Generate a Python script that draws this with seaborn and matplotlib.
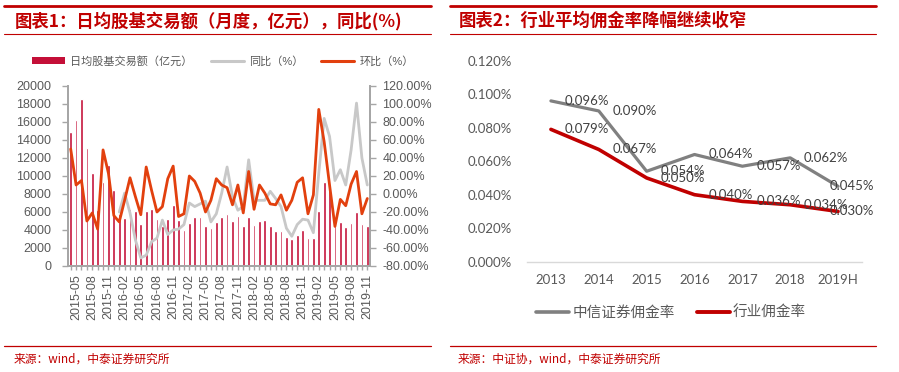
import numpy as np
import pandas as pd
import matplotlib
matplotlib.use("Agg")
import matplotlib.pyplot as plt
from matplotlib.lines import Line2D
from matplotlib.patches import Patch
import matplotlib.ticker as mticker
import seaborn as sns

# ---------------- data ----------------
months = [str(p) for p in pd.period_range("2015-04", "2019-11", freq="M")]
turnover = [14900, 16200, 18600, 13100, 10300, 6200, 9300, 11200, 8400, 5800,
            5300, 6300, 6100, 4700, 6100, 6300, 5200, 4500, 5200, 6800,
            5100, 4000, 4800, 5500, 5500, 4400, 4200, 4900, 5400, 5800,
            5000, 5600, 4400, 5500, 4600, 5000, 5100, 4500, 3900, 3900,
            3200, 3000, 3400, 4000, 3100, 3100, 6100, 9300, 8400, 5000,
            4900, 4300, 4800, 6000, 4700, 4400]
mom = [50, 10, 15, -30, -21, -39, 49, 23, -24, -31,
       -7, 18, -3, -23, 30, 4, -20, -14, 17, 31,
       -25, -22, 20, 14, 1, -20, -7, 17, 10, 7,
       -12, 10, -21, 25, -17, 10, 1, -11, -12, -1,
       -18, -7, 13, 18, -22, -1, 94, 58, 10, -36,
       -6, -13, 11, 25, -22, -5]
yoy_start = "2016-01"
yoy = [-20, 1, -21, -51, -71, -68, -53, -49, -29, -45,
       -40, -39, -34, -10, -14, -11, -8, -31, -22, 1,
       30, -3, -18, -14, 38, -7, -7, -7, 3, -5,
       -14, -38, -47, -34, -28, -29, -43, 23, 84, 64,
       15, 27, 10, 49, 101, 40, 10]

years = ["2013", "2014", "2015", "2016", "2017", "2018", "2019H"]
citic_rate = [0.096, 0.090, 0.054, 0.064, 0.057, 0.062, 0.045]
industry_rate = [0.079, 0.067, 0.050, 0.040, 0.036, 0.034, 0.030]

# ---------------- style ----------------
sns.set_theme(style="white")
plt.rcParams["font.family"] = ["Liberation Sans", "Noto Sans CJK SC"]
plt.rcParams["axes.unicode_minus"] = False

RED = "#C00000"
BAR = "#C40F38"
ORANGE = "#E2400E"
LGRAY = "#C8C8C8"
TXT = "#595959"
SPINE = "#A6A6A6"

fig = plt.figure(figsize=(8.99, 3.72), dpi=100)

# ---------------- left chart ----------------
ax = fig.add_axes([68 / 899, 1 - 266 / 372, 302 / 899, 180 / 372])
df_bar = pd.DataFrame({"month": months, "turnover": turnover})
sns.barplot(data=df_bar, x="month", y="turnover", color=BAR, saturation=1,
            width=0.5, ax=ax)
ax2 = ax.twinx()
idx = np.arange(len(months))
i0 = months.index(yoy_start)
sns.lineplot(x=idx[i0:i0 + len(yoy)], y=yoy, ax=ax2, color=LGRAY, lw=2.0)
sns.lineplot(x=idx, y=mom, ax=ax2, color=ORANGE, lw=2.0)

ax.set_xlim(-0.5, len(months) - 0.5)
ax.set_ylim(0, 20000)
ax.set_yticks(np.arange(0, 20001, 2000))
ax2.set_ylim(-80, 120)
ax2.set_yticks(np.arange(-80, 121, 20))
ax2.yaxis.set_major_formatter(mticker.FuncFormatter(lambda v, p: f"{v:.2f}%"))
ax.set_xticks(idx)
ax.set_xticklabels([m if (i % 3 == 1) else "" for i, m in enumerate(months)],
                   rotation=90, fontsize=9, color=TXT)
ax.set_xlabel("")
ax.set_ylabel("")
ax2.set_ylabel("")
for a in (ax, ax2):
    a.spines["top"].set_visible(False)
    for s in ("left", "right", "bottom"):
        a.spines[s].set_color(SPINE)
        a.spines[s].set_linewidth(1.3)
ax.tick_params(axis="y", labelsize=9, colors=SPINE, labelcolor=TXT,
               length=4, width=1, pad=8, left=True)
ax.tick_params(axis="x", colors=SPINE, labelcolor=TXT, length=3, width=1,
               pad=3, bottom=True)
ax2.tick_params(axis="y", labelsize=9, colors=SPINE, labelcolor=TXT,
                length=4, width=1, pad=5, right=True)
ax.grid(False)
ax2.grid(False)

h_left = [Patch(facecolor=BAR, edgecolor="none"),
          Line2D([], [], color=LGRAY, lw=2.2),
          Line2D([], [], color=ORANGE, lw=2.2)]
fig.legend(h_left, ["日均股基交易额（亿元）", "同比（%）", "环比（%）"],
           loc="center", bbox_to_anchor=(223 / 899, 1 - 61 / 372), ncol=3,
           frameon=False, fontsize=8, labelcolor=TXT, handlelength=3.0,
           handleheight=0.5, handletextpad=0.45, columnspacing=1.6)

# ---------------- right chart ----------------
bx = fig.add_axes([527 / 899, 1 - 261.7 / 372, 335 / 899, 201 / 372])
sns.lineplot(x=years, y=citic_rate, ax=bx, color="#808080", lw=2.3, sort=False)
sns.lineplot(x=years, y=industry_rate, ax=bx, color=RED, lw=2.6, sort=False)
bx.set_xlim(-0.5, len(years) - 0.5)
bx.set_ylim(0, 0.12)
bx.set_yticks(np.arange(0, 0.1201, 0.02))
bx.yaxis.set_major_formatter(mticker.FuncFormatter(lambda v, p: f"{v:.3f}%"))
for s in ("left", "right", "top"):
    bx.spines[s].set_visible(False)
bx.spines["bottom"].set_color("#D9D9D9")
bx.spines["bottom"].set_linewidth(1.0)
bx.tick_params(axis="y", length=0, pad=11, labelsize=9.5, labelcolor=TXT)
bx.tick_params(axis="x", length=0, pad=9, labelsize=9.5, labelcolor=TXT)
for lab in bx.get_xticklabels() + bx.get_yticklabels():
    lab.set_fontfamily(["Lato", "Noto Sans CJK SC"])
bx.set_xlabel("")
bx.set_ylabel("")
bx.grid(False)
n_years = len(years)
for series in (citic_rate, industry_rate):
    for i, v in enumerate(series):
        # labels sit right of the point; the last ones are pulled back
        # inside the plot area, as the original chart does
        dx = 10 if i < n_years - 1 else -6
        bx.annotate(f"{v:.3f}%", xy=(i, v), xytext=(dx, 0),
                    textcoords="offset points", ha="left", va="center",
                    fontsize=9.5, color="#404040",
                    fontfamily=["Lato", "Noto Sans CJK SC"])

h_right = [Line2D([], [], color="#808080", lw=2.6),
           Line2D([], [], color=RED, lw=2.8)]
fig.legend(h_right, ["中信证券佣金率", "行业佣金率"], loc="center",
           bbox_to_anchor=(671 / 899, 1 - 313 / 372), ncol=2, frameon=False,
           labelcolor=TXT, handlelength=2.3,
           handletextpad=0.2, columnspacing=1.5,
           prop={"family": ["Noto Sans CJK SC"], "size": 10.5})

# ---------------- titles, rules, footers ----------------
def hline(x0, x1, y, lw):
    fig.add_artist(Line2D([x0 / 899, x1 / 899], [1 - y / 372, 1 - y / 372],
                          color=RED, lw=lw, transform=fig.transFigure))

hline(4, 431, 6, 2.0)
hline(4, 431, 33.5, 0.8)
hline(450, 876, 6, 2.0)
hline(450, 876, 34, 0.8)
hline(4, 431, 346, 0.9)
hline(450, 876, 346, 0.9)

fig.text(15 / 899, 1 - 21 / 372, "图表1：日均股基交易额（月度，亿元），同比(%)",
         fontsize=12.5, fontweight="bold", color=RED, va="center", ha="left",
         family=["Noto Sans CJK SC"])
fig.text(459 / 899, 1 - 21 / 372, "图表2：行业平均佣金率降幅继续收窄",
         fontsize=12.5, fontweight="bold", color=RED, va="center", ha="left",
         family=["Noto Sans CJK SC"])
fig.text(14 / 899, 1 - 359 / 372, "来源：wind，中泰证券研究所", fontsize=8.5,
         color=RED, va="center", ha="left", family=["Noto Sans CJK SC"])
fig.text(458 / 899, 1 - 359 / 372, "来源：中证协，wind，中泰证券研究所",
         fontsize=8.5, color=RED, va="center", ha="left",
         family=["Noto Sans CJK SC"])

fig.savefig("out.png", dpi=100)
